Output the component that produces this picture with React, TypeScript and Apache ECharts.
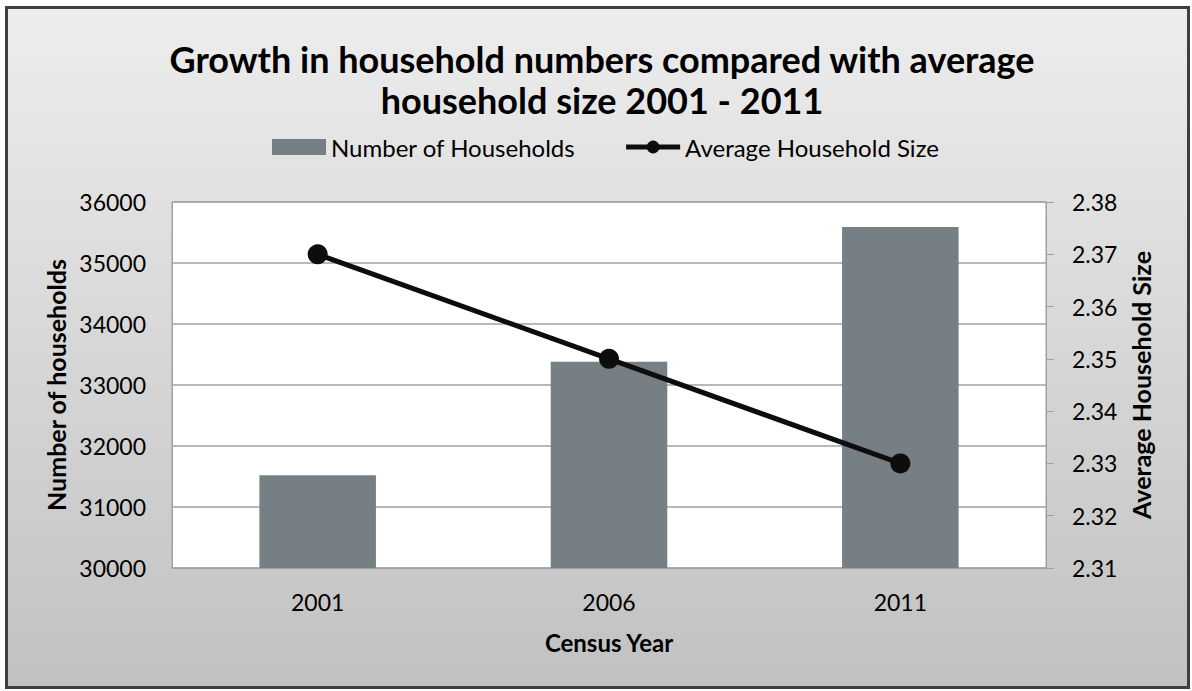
import React, { useEffect, useRef } from "react";
import * as echarts from "echarts";

const categories = ["2001", "2006", "2011"];
const households = [31520, 33380, 35590];
const avgSize = [2.37, 2.35, 2.33];
const titleText = "Growth in household numbers compared with average\nhousehold size 2001 - 2011";

const FONT = "Lato";

export default function App() {
  const ref = useRef<HTMLDivElement>(null);
  useEffect(() => {
    if (!ref.current) return;
    const chart = echarts.init(ref.current, null, { renderer: "svg" });
    chart.setOption({
      animation: false,
      graphic: [
        {
          type: "rect",
          z: -10,
          silent: true,
          shape: { x: 6.5, y: 7.5, width: 1182, height: 680 },
          style: {
            fill: {
              type: "linear",
              x: 0,
              y: 0,
              x2: 0,
              y2: 1,
              colorStops: [
                { offset: 0, color: "#ededed" },
                { offset: 1, color: "#c1c1c1" },
              ],
            },
            stroke: "#3f3f3f",
            lineWidth: 3,
          },
        },
      ],
      title: {
        text: titleText,
        left: 597,
        textAlign: "center",
        top: 33,
        textStyle: {
          fontFamily: FONT,
          fontWeight: "bold",
          fontSize: 36,
          lineHeight: 41,
          color: "#000",
        },
      },
      legend: {
        left: 267,
        top: 130,
        itemWidth: 54,
        itemHeight: 16,
        itemGap: 48,
        lineStyle: { width: 5 },
        textStyle: { fontFamily: FONT, fontSize: 24, color: "#000" },
        data: [
          { name: "Number of Households", icon: "rect" },
          { name: "Average Household Size" },
        ],
      },
      grid: {
        left: 172,
        right: 146,
        top: 202,
        bottom: 123,
        show: true,
        backgroundColor: "#ffffff",
        borderColor: "#a0a0a0",
        borderWidth: 1,
      },
      xAxis: {
        type: "category",
        data: categories,
        name: "Census Year",
        nameLocation: "middle",
        nameGap: 62,
        nameTextStyle: { fontFamily: FONT, fontSize: 24, fontWeight: "bold", color: "#000" },
        axisLine: { lineStyle: { color: "#a0a0a0" } },
        axisTick: { show: false },
        axisLabel: { fontFamily: FONT, fontSize: 23, color: "#000", margin: 22 },
      },
      yAxis: [
        {
          type: "value",
          min: 30000,
          max: 36000,
          interval: 1000,
          name: "Number of households",
          nameLocation: "middle",
          nameRotate: 90,
          nameGap: 102,
          nameTextStyle: { fontFamily: FONT, fontSize: 25, fontWeight: "bold", color: "#000" },
          axisLine: { show: true, lineStyle: { color: "#a0a0a0" } },
          axisTick: { show: false },
          axisLabel: {
            fontFamily: FONT,
            fontSize: 23,
            color: "#000",
            margin: 26,
            formatter: (v: number) => String(v),
          },
          splitLine: { lineStyle: { color: "#a0a0a0", width: 1.5 } },
        },
        {
          type: "value",
          min: 2.31,
          max: 2.38,
          interval: 0.01,
          position: "right",
          name: "Average Household Size",
          nameLocation: "middle",
          nameRotate: 90,
          nameGap: 79,
          nameTextStyle: { fontFamily: FONT, fontSize: 25, fontWeight: "bold", color: "#000" },
          axisLine: { show: true, lineStyle: { color: "#a0a0a0" } },
          axisTick: { show: true, length: 8, lineStyle: { color: "#a0a0a0" } },
          axisLabel: {
            fontFamily: FONT,
            fontSize: 23,
            color: "#000",
            margin: 26,
            formatter: (v: number) => v.toFixed(2),
          },
          splitLine: { show: false },
        },
      ],
      series: [
        {
          name: "Number of Households",
          type: "bar",
          data: households,
          barWidth: "40%",
          itemStyle: { color: "#757f84" },
          yAxisIndex: 0,
        },
        {
          name: "Average Household Size",
          type: "line",
          data: avgSize,
          yAxisIndex: 1,
          symbol: "circle",
          symbolSize: 20,
          lineStyle: { color: "#0d0d0d", width: 5 },
          itemStyle: { color: "#0d0d0d" },
        },
      ],
    });
    return () => chart.dispose();
  }, []);
  return (
    <div
      ref={ref}
      style={{ position: "fixed", left: 0, top: 0, width: 1192, height: 691, background: "#fff" }}
    />
  );
}
